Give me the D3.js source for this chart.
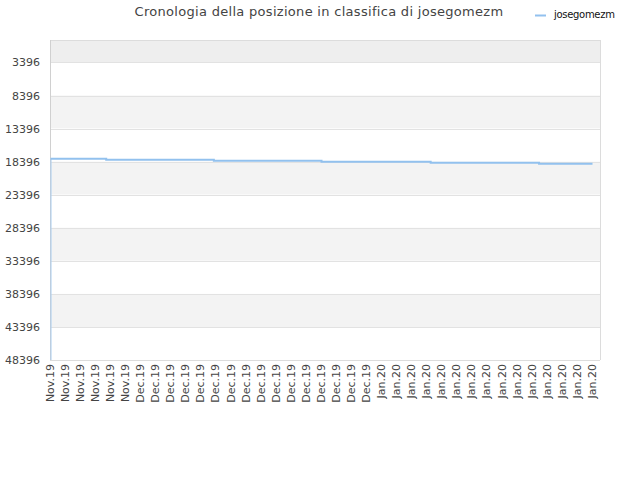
<!DOCTYPE html>
<html lang="it">
<head>
    <meta charset="UTF-8">
    <title>Cronologia della posizione</title>
    <script src="https://d3js.org/d3.v7.min.js"></script>
    <style>
        body { margin: 0; background: #fff; }
        text { font-family: "DejaVu Sans", sans-serif; }
        .tick text { font-size: 11px; fill: #444; }
    </style>
</head>
<body>
    <svg width="640" height="480"></svg>
    <script>
        // tick labels (one every two days)
        const tickLabels = [
            ...Array(6).fill("Nov.19"),
            ...Array(16).fill("Dec.19"),
            ...Array(15).fill("Jan.20")
        ];
        const yTicks = [3396, 8396, 13396, 18396, 23396, 28396, 33396, 38396, 43396, 48396];
        // series: day offset and rank at each change
        const days  = [0, 0, 7.4, 21.7, 36, 50.5, 64.9, 72];
        const ranks = [48396, 17960, 18110, 18260, 18420, 18570, 18720, 18720];
        const seriesName = "josegomezm";

        const width = 640, height = 480;
        const margin = {top: 40, right: 40, bottom: 120, left: 50};
        const innerW = width - margin.left - margin.right;
        const innerH = height - margin.top - margin.bottom;

        const svg = d3.select("svg");
        const g = svg.append("g").attr("transform", `translate(${margin.left},${margin.top})`);

        const x = d3.scaleLinear().domain([0, 72]).range([0.5, innerW - 7.5]);
        const y = d3.scaleLinear().domain([1, 48396]).range([0, innerH]);

        // alternating bands
        const bandEdges = [1, ...yTicks];
        for (let i = 0; i < bandEdges.length - 1; i++) {
            let fill = i % 2 === 0 ? "#f3f3f3" : "#ffffff";
            if (i === 0) fill = "#eeeeee";
            g.append("rect")
                .attr("x", 0).attr("width", innerW)
                .attr("y", y(bandEdges[i]))
                .attr("height", y(bandEdges[i + 1]) - y(bandEdges[i]))
                .attr("fill", fill);
        }

        // grid lines
        g.selectAll(".grid").data(yTicks).enter().append("line")
            .attr("x1", 0).attr("x2", innerW)
            .attr("y1", d => Math.round(y(d)) + 0.5).attr("y2", d => Math.round(y(d)) + 0.5)
            .attr("stroke", "#e2e2e2");

        // frame
        g.append("line").attr("x1", 0).attr("x2", innerW).attr("y1", 0.5).attr("y2", 0.5).attr("stroke", "#dcdcdc");
        g.append("line").attr("x1", innerW + 0.5).attr("x2", innerW + 0.5).attr("y1", 0).attr("y2", innerH).attr("stroke", "#dcdcdc");
        g.append("line").attr("x1", 0.5).attr("x2", 0.5).attr("y1", 0).attr("y2", innerH).attr("stroke", "#d0d0d0");
        g.append("line").attr("x1", 0).attr("x2", innerW).attr("y1", innerH + 0.5).attr("y2", innerH + 0.5).attr("stroke", "#dcdcdc");

        // y axis
        const yAxis = g.append("g")
            .call(d3.axisLeft(y).tickValues(yTicks).tickSize(0).tickPadding(10).tickFormat(d3.format("d")));
        yAxis.select(".domain").remove();

        // x axis
        const tickDays = tickLabels.map((d, i) => i * 2);
        const xAxis = g.append("g")
            .attr("transform", `translate(0,${innerH})`)
            .call(d3.axisBottom(x).tickValues(tickDays).tickSize(0).tickFormat((d, i) => tickLabels[i]));
        xAxis.select(".domain").remove();
        xAxis.selectAll("text")
            .attr("transform", "rotate(-90)")
            .attr("text-anchor", "end")
            .attr("x", -4)
            .attr("y", -1)
            .attr("dy", "0.35em");

        // series line: first jump drawn thin, the rest as steps
        const pts = days.map((d, i) => [d, ranks[i]]);
        g.append("line")
            .attr("x1", x(pts[0][0]) + 0.5).attr("x2", x(pts[1][0]) + 0.5)
            .attr("y1", y(pts[0][1])).attr("y2", y(pts[1][1]))
            .attr("stroke", "#a9cdf0").attr("stroke-width", 1);
        g.append("path")
            .datum(pts.slice(1))
            .attr("fill", "none")
            .attr("stroke", "#92c1ee")
            .attr("stroke-width", 2)
            .attr("d", d3.line().x(d => x(d[0])).y(d => y(d[1])).curve(d3.curveStepAfter));

        // title
        svg.append("text")
            .attr("x", 319).attr("y", 16)
            .attr("text-anchor", "middle")
            .style("font-size", "13px")
            .style("letter-spacing", "0.3px")
            .attr("fill", "#444")
            .text("Cronologia della posizione in classifica di " + seriesName);

        // legend
        svg.append("line")
            .attr("x1", 535).attr("x2", 546).attr("y1", 15.5).attr("y2", 15.5)
            .attr("stroke", "#92c1ee").attr("stroke-width", 2);
        svg.append("text")
            .attr("x", 554).attr("y", 18)
            .style("font-size", "10px")
            .style("letter-spacing", "-0.3px")
            .attr("fill", "#111")
            .text(seriesName);
    </script>
</body>
</html>
